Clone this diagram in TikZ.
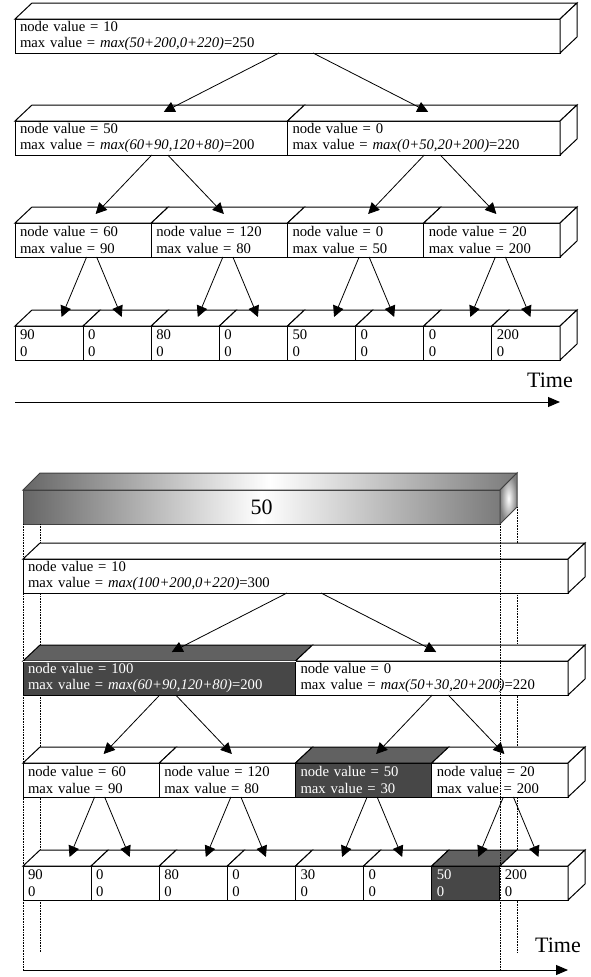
\documentclass[tikz,border=0pt]{standalone}
\usepackage{fontspec}
\setmainfont{Liberation Serif}
\usetikzlibrary{calc,arrows.meta}

\begin{document}
\begin{tikzpicture}[x=1pt,y=-1pt,line width=1pt,
  box/.style={draw,fill=white,anchor=north west,outer sep=0pt,inner xsep=5pt,inner ysep=0pt,
    minimum height=34pt,minimum width=#1,text width=#1-10pt,align=left,font=\fontsize{14.7}{16.8}\selectfont},
  lit/.style={},
  dark/.style={fill=black!72,text=white},
  link/.style={line width=0.8pt,-{Triangle[length=11pt,width=11pt]}},
  timeline/.style={-{Triangle[length=12pt,width=10pt]}},
  guide/.style={densely dotted,line width=0.6pt},
  timelabel/.style={anchor=base,font=\fontsize{22}{26}\selectfont}]
\useasboundingbox (0,0) rectangle (590,977);
% upper tree
\node[box=545pt] (r) at (15,19) {node value = 10\\max value = \textit{max(50+200,0+220)}=250};
\node[box=272.5pt] (a0) at (15,121) {node value = 50\\max value = \textit{max(60+90,120+80)}=200};
\node[box=272.5pt] (a1) at (287.5,121) {node value = 0\\max value = \textit{max(0+50,20+200)}=220};
\foreach \nv/\mv [count=\i from 0] in {60/90,120/80,0/50,20/200}
  \node[box=136.25pt] (b\i) at (15+136.25*\i,223) {node value = \nv\\max value = \mv};
\foreach \lv [count=\i from 0] in {90,0,80,0,50,0,0,200}
  \node[box=68.125pt] (c\i) at (15+68.125*\i,326) {\lv\\0};
\foreach \n in {r,a0,a1,b0,b1,b2,b3,c0,c1,c2,c3,c4,c5,c6,c7}
  \draw[fill=white] (\n.north west) -- ++(17,-16) -- ($(\n.north east)+(17,-16)$) -- (\n.north east) -- cycle;
\foreach \n in {r,a1,b3,c7}
  \draw[fill=white] (\n.north east) -- ++(17,-16) -- ++(0,34) -- (\n.south east) -- cycle;
\foreach \pa/\ca/\cb/\gap in {r/a0/a1/17,a0/b0/b1/8,a1/b2/b3/8,b0/c0/c1/5,b1/c2/c3/5,b2/c4/c5/5,b3/c6/c7/5} {
  \draw[link] ($(\pa.south)+(8.5-\gap,0)$) -- ($(\ca.north)+(12.5,-9)$);
  \draw[link] ($(\pa.south)+(8.5+\gap,0)$) -- ($(\cb.north)+(4.5,-9)$);
}
\coordinate (t0) at (15,402);
\coordinate (t1) at (560,402);
\draw[timeline] (t0) -- (t1);
\node[timelabel] (time) at (550,387) {Time};

% gradient bar
\node[draw=black!75,anchor=north west,outer sep=0pt,minimum width=477pt,minimum height=34pt,
  left color=black!60,right color=black!52,middle color=white,font=\fontsize{22}{26}\selectfont] (bar) at (23,490) {50};
\shadedraw[draw=black!75,left color=black!60,right color=black!52,middle color=white]
  (bar.north west) -- ++(17,-17) -- ($(bar.north east)+(17,-17)$) -- (bar.north east) -- cycle;
\shadedraw[draw=black!75,inner color=white,outer color=black!50]
  (bar.north east) -- ++(17,-17) -- ++(0,34) -- (bar.south east) -- cycle;
\coordinate (g0) at (23,970);
\coordinate (g1) at (40,952);
\coordinate (g2) at (500,970);
\coordinate (g3) at (517,952);
\draw[guide] (bar.south west) -- (g0);
\draw[guide] ($(bar.south west)+(17,0)$) -- (g1);
\draw[guide] ($(bar.south east)+(17,-17)$) -- (g3);

% lower tree
\begin{scope}[shift={(8,540)}]
\node[box=545pt] (R) at (15,19) {node value = 10\\max value = \textit{max(100+200,0+220)}=300};
\node[box=272.5pt,dark] (A0) at (15,121) {node value = 100\\max value = \textit{max(60+90,120+80)}=200};
\node[box=272.5pt] (A1) at (287.5,121) {node value = 0\\max value = \textit{max(50+30,20+200)}=220};
\foreach \nv/\mv/\st [count=\i from 0] in {60/90/lit,120/80/lit,50/30/dark,20/200/lit}
  \node[box=136.25pt,\st] (B\i) at (15+136.25*\i,223) {node value = \nv\\max value = \mv};
\foreach \lv/\st [count=\i from 0] in {90/lit,0/lit,80/lit,0/lit,30/lit,0/lit,50/dark,200/lit}
  \node[box=68.125pt,\st] (C\i) at (15+68.125*\i,326) {\lv\\0};
\end{scope}
\foreach \n/\f in {R/white,A0/black!62,A1/white,B0/white,B1/white,B2/black!62,B3/white,
  C0/white,C1/white,C2/white,C3/white,C4/white,C5/white,C6/black!62,C7/white}
  \draw[fill=\f] (\n.north west) -- ++(17,-16) -- ($(\n.north east)+(17,-16)$) -- (\n.north east) -- cycle;
\foreach \n in {R,A1,B3,C7}
  \draw[fill=white] (\n.north east) -- ++(17,-16) -- ++(0,34) -- (\n.south east) -- cycle;
\draw[white,line width=0.5pt] (A0.north west) -- (A0.north east);
\foreach \pa/\ca/\cb/\gap in {R/A0/A1/17,A0/B0/B1/8,A1/B2/B3/8,B0/C0/C1/5,B1/C2/C3/5,B2/C4/C5/5,B3/C6/C7/5} {
  \draw[link] ($(\pa.south)+(8.5-\gap,0)$) -- ($(\ca.north)+(12.5,-9)$);
  \draw[link] ($(\pa.south)+(8.5+\gap,0)$) -- ($(\cb.north)+(4.5,-9)$);
}
\draw[guide] (bar.south east) -- (g2);
\coordinate (T0) at (23,970);
\coordinate (T1) at (568,970);
\draw[timeline] (T0) -- (T1);
\node[timelabel] (Time) at (558,952) {Time};
\end{tikzpicture}
\end{document}
